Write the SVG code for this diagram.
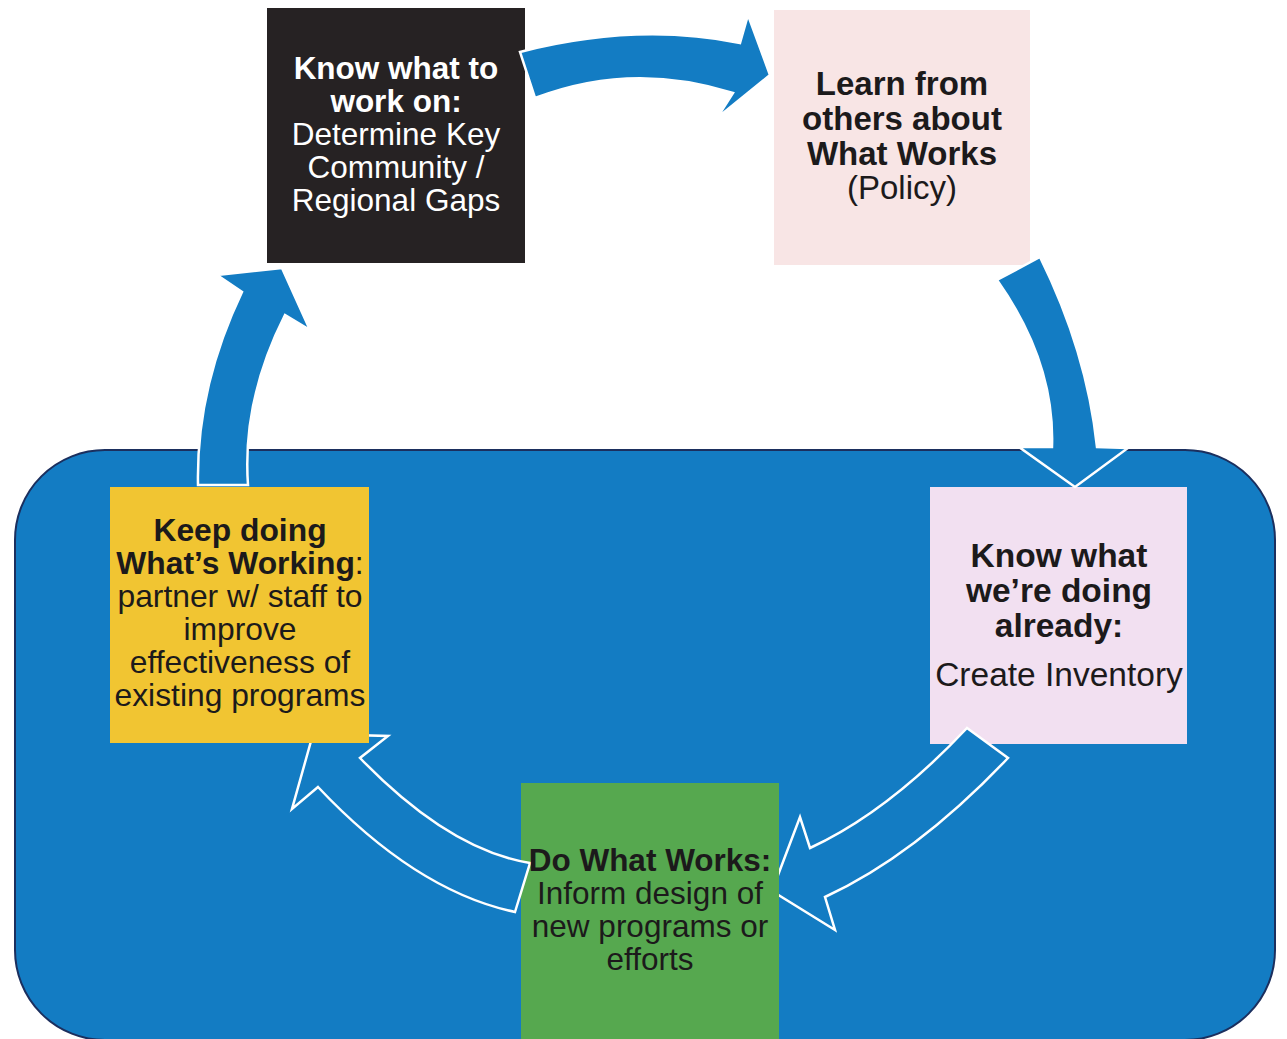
<svg xmlns="http://www.w3.org/2000/svg" width="1287" height="1039" viewBox="0 0 1287 1039">
<style>
.t{font-family:"Liberation Sans",Arial,sans-serif;text-anchor:middle;fill:#1c1a1b}
.b{font-weight:bold}
.w{fill:#ffffff}
.arr{fill:#137cc3;stroke:#ffffff;stroke-width:2.5;stroke-linejoin:miter}
</style>
<defs>
<clipPath id="noYellow">
<path clip-rule="evenodd" d="M0,0 H1287 V1039 H0 Z M110,487 H369 V743 H110 Z"/>
</clipPath>
<clipPath id="noGreen">
<path clip-rule="evenodd" d="M0,0 H1287 V1039 H0 Z M521,783 H779 V1043 H521 Z"/>
</clipPath>
</defs>
<rect width="1287" height="1039" fill="#ffffff"/>
<g id="background">
<rect x="15" y="450" width="1260" height="590" rx="90" ry="90" fill="#137cc3" stroke="#1b2f5e" stroke-width="2"/>
</g>
<g id="node-know-what-to-work-on">
<rect x="267" y="8" width="258" height="255" fill="#262223"/>
</g>
<g id="node-learn-from-others">
<rect x="774" y="10" width="256" height="255" fill="#f8e5e5"/>
</g>
<g id="node-know-what-doing">
<rect x="930" y="487" width="257" height="257" fill="#f2e0f1"/>
</g>
<g id="node-do-what-works">
<rect x="521" y="783" width="258" height="260" fill="#56a84f"/>
</g>
<g id="node-keep-doing">
<rect x="110" y="487" width="259" height="256" fill="#f1c532"/>
</g>
<g id="connectors">
<path class="arr" d="M520,52 Q636,22 740,43 L748,15 L770,75 L717,118 L733,93 Q632,61 535,98 Z"/>
<path class="arr" d="M997,280 L1040,257 Q1087,352 1097,447 L1128,448 L1075,487 L1019,447 L1052,447 Q1055,362 997,280 Z"/>
<path class="arr" d="M198,485 Q196,388 242,292 L217,275 L282,268 L310,330 L285,315 Q242,400 248,485 Z"/>
<path class="arr" clip-path="url(#noGreen)" d="M967,728 L1008,758 Q916,855 825,897 L835,930 L772,891 L800,817 L810,848 Q888,812 967,728 Z"/>
<path class="arr" clip-path="url(#noYellow)" d="M515,912 L530,863 Q449,850 360,758 L388,736 L313,734 L292,809 L318,787 Q416,891 515,912 Z"/>
</g>
<g id="labels">
<g id="label-know-what-to-work-on" font-size="31.5">
<text x="396" y="79" class="t w b">Know what to</text>
<text x="396" y="112" class="t w b">work on:</text>
<text x="396" y="145" class="t w">Determine Key</text>
<text x="396" y="178" class="t w">Community /</text>
<text x="396" y="211" class="t w">Regional Gaps</text>
</g>
<g id="label-learn-from-others" font-size="33">
<text x="902" y="95" class="t b">Learn from</text>
<text x="902" y="130" class="t b">others about</text>
<text x="902" y="165" class="t b">What Works</text>
<text x="902" y="199" class="t">(Policy)</text>
</g>
<g id="label-know-what-doing" font-size="33.5">
<text x="1059" y="567" class="t b">Know what</text>
<text x="1059" y="602" class="t b">we’re doing</text>
<text x="1059" y="637" class="t b">already:</text>
<text x="1059" y="686" class="t">Create Inventory</text>
</g>
<g id="label-do-what-works" font-size="31.5">
<text x="650" y="871" class="t b">Do What Works:</text>
<text x="650" y="904" class="t">Inform design of</text>
<text x="650" y="937" class="t">new programs or</text>
<text x="650" y="970" class="t">efforts</text>
</g>
<g id="label-keep-doing" font-size="31.8">
<text x="240" y="541" class="t b">Keep doing</text>
<text x="240" y="574" class="t"><tspan class="b">What’s Working</tspan>:</text>
<text x="240" y="607" class="t">partner w/ staff to</text>
<text x="240" y="640" class="t">improve</text>
<text x="240" y="673" class="t">effectiveness of</text>
<text x="240" y="706" class="t">existing programs</text>
</g>
</g>
</svg>
